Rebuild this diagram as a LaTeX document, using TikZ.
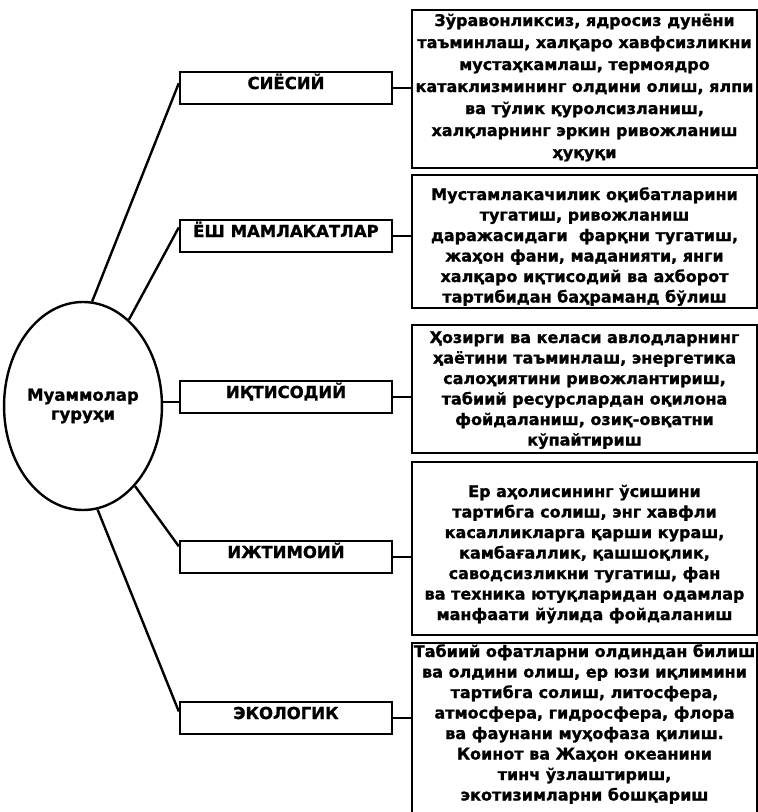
\documentclass[tikz,border=0pt]{standalone}
\usepackage{fontspec}
\setmainfont{DejaVu Sans}[BoldFeatures={FakeBold=1.2}]
\usetikzlibrary{shapes.geometric,calc}
\newcommand{\dline}[1]{\makebox[\linewidth]{#1}\par}
\newcommand{\descbox}[4]{\begin{minipage}[c][#1][t]{345pt}\fontsize{16}{#2}\selectfont\bfseries\rule{0pt}{#3}#4\end{minipage}}
\tikzset{
  cat/.style={draw, line width=2.4pt, minimum width=212pt, minimum height=32pt, inner sep=0pt,
    text height=14pt, text depth=12pt, font=\bfseries\fontsize{16.5}{19}\selectfont},
  desc/.style={draw, line width=2.4pt, inner sep=0pt},
  conn/.style={line width=2.4pt},
}
\begin{document}
\begin{tikzpicture}[x=1pt,y=-1pt]
\useasboundingbox (0,0) rectangle (758,812);
\node[ellipse, draw, line width=2.4pt, minimum width=150pt, minimum height=208pt, inner sep=0pt,
  align=center, font=\bfseries\fontsize{16.5}{19}\selectfont] (ell) at (83,406) {Муаммолар\\гуруҳи};

\node[cat] (sy) at (286,88) {СИЁСИЙ};
\node[cat] (esh) at (286,236) {ЁШ МАМЛАКАТЛАР};
\node[cat] (iqt) at (286,397) {ИҚТИСОДИЙ};
\node[cat] (ijt) at (286,557) {ИЖТИМОИЙ};
\node[cat] (eko) at (286,718) {ЭКОЛОГИК};

\node[desc] (d1) at (584.5,89) {\descbox{158pt}{22}{16pt}{%
\dline{Зўравонликсиз, ядросиз дунёни}%
\dline{таъминлаш, халқаро хавфсизликни}%
\dline{мустаҳкамлаш, термоядро}%
\dline{катаклизмининг олдини олиш, ялпи}%
\dline{ва тўлик қуролсизланиш,}%
\dline{халқларнинг эркин ривожланиш}%
\dline{ҳуқуқи}}};

\node[desc] (d2) at (584.5,241.5) {\descbox{133pt}{20.5}{25pt}{%
\dline{Мустамлакачилик оқибатларини}%
\dline{тугатиш, ривожланиш}%
\dline{даражасидаги \ фарқни тугатиш,}%
\dline{жаҳон фани, маданияти, янги}%
\dline{халқаро иқтисодий ва ахборот}%
\dline{тартибидан баҳраманд бўлиш}}};

\node[desc] (d3) at (584.5,389) {\descbox{128pt}{20.5}{18pt}{%
\dline{Ҳозирги ва келаси авлодларнинг}%
\dline{ҳаётини таъминлаш, энергетика}%
\dline{салоҳиятини ривожлантириш,}%
\dline{табиий ресурслардан оқилона}%
\dline{фойдаланиш, озиқ-овқатни}%
\dline{кўпайтириш}}};

\node[desc] (d4) at (584.5,548.5) {\descbox{173pt}{20.5}{35pt}{%
\dline{Ер аҳолисининг ўсишини}%
\dline{тартибга солиш, энг хавфли}%
\dline{касалликларга қарши кураш,}%
\dline{камбағаллик, қашшоқлик,}%
\dline{саводсизликни тугатиш, фан}%
\dline{ва техника ютуқларидан одамлар}%
\dline{манфаати йўлида фойдаланиш}}};

\node[desc] (d5) at (584.5,729.5) {\descbox{173pt}{20.5}{14pt}{%
\dline{Табиий офатларни олдиндан билиш}%
\dline{ва олдини олиш, ер юзи иқлимини}%
\dline{тартибга солиш, литосфера,}%
\dline{атмосфера, гидросфера, флора}%
\dline{ва фаунани муҳофаза қилиш.}%
\dline{Коинот ва Жаҳон океанини}%
\dline{тинч ўзлаштириш,}%
\dline{экотизимларни бошқариш}}};

\draw[conn] (ell.85) -- ($(sy.north west)!0.36!(sy.south west)$);
\draw[conn] (ell.62) -- ($(esh.north west)!0.25!(esh.south west)$);
\draw[conn] (ell.3) -- (ell.3 -| iqt.west);
\draw[conn] (ell.-57) -- ($(ijt.north west)!0.19!(ijt.south west)$);
\draw[conn] (ell.-82) -- ($(eko.north west)!0.31!(eko.south west)$);

\draw[conn] (sy.east) -- (sy.east -| d1.west);
\draw[conn] (esh.east) -- (esh.east -| d2.west);
\draw[conn] (iqt.east) -- (iqt.east -| d3.west);
\draw[conn] (ijt.east) -- (ijt.east -| d4.west);
\draw[conn] (eko.east) -- (eko.east -| d5.west);
\end{tikzpicture}
\end{document}
